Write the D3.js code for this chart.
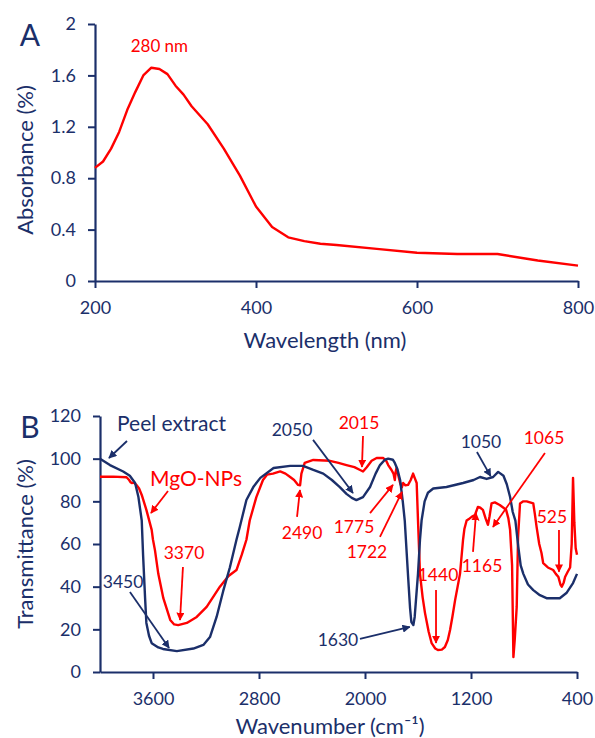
<!DOCTYPE html>
<html>
<head>
<meta charset="utf-8">
<script src="https://cdn.jsdelivr.net/npm/d3@7"></script>
<style>
  body { margin: 0; background: #fff; }
  svg text { font-family: Lato, "Open Sans", sans-serif; }
</style>
</head>
<body>
<svg id="chart" width="595" height="738"></svg>
<script>
const navy = '#1b2f6a';
const red = '#ff0000';

// Panel A: UV-vis absorbance
const wavelength = [200, 210, 220, 230, 240, 250, 260, 270, 280, 290, 300, 310, 320, 340, 360, 380, 400, 420, 440, 460, 480, 500, 550, 600, 650, 700, 750, 800];
const absorbance = [0.88, 0.93, 1.03, 1.16, 1.33, 1.47, 1.60, 1.66, 1.65, 1.61, 1.52, 1.45, 1.36, 1.22, 1.03, 0.82, 0.58, 0.42, 0.34, 0.31, 0.29, 0.28, 0.25, 0.22, 0.21, 0.21, 0.16, 0.12];
const absTicks = [0, 0.4, 0.8, 1.2, 1.6, 2];
const wlTicks = [200, 400, 600, 800];

// Panel B: FTIR, peel extract
const peelWn = [4000, 3925, 3825, 3775, 3735, 3710, 3685, 3675, 3660, 3650, 3630, 3610, 3560, 3525, 3420, 3295, 3220, 3170, 3120, 3070, 3020, 2970, 2945, 2895, 2840, 2790, 2690, 2565, 2468, 2390, 2315, 2250, 2190, 2140, 2100, 2065, 2015, 1962, 1920, 1887, 1850, 1825, 1790, 1775, 1755, 1735, 1715, 1700, 1675, 1660, 1650, 1635, 1625, 1610, 1600, 1585, 1573, 1550, 1525, 1485, 1385, 1260, 1180, 1132, 1082, 1033, 995, 955, 930, 905, 885, 865, 843, 825, 805, 770, 730, 680, 630, 530, 480, 430, 400];
const peelT = [100, 97, 94, 92, 88.6, 82, 71, 55, 35, 23, 17, 13.5, 11.5, 10.8, 9.8, 11, 12.7, 16.4, 25.8, 38, 49, 62, 68, 80.6, 87, 91, 95.6, 96.6, 96.6, 94.7, 93, 90, 86.7, 83.5, 81.6, 80.6, 82, 86.7, 93, 97, 99.5, 100, 99.5, 98, 95, 90, 80, 71, 45, 30, 23.4, 22, 25.8, 38, 46, 62, 71, 80, 84, 86, 86.7, 88.6, 90, 91.4, 90.5, 91.4, 93.8, 92, 88, 82, 75, 71, 58.6, 50, 46, 41, 38.4, 36, 34.6, 34.6, 37, 41.7, 46];

// Panel B: FTIR, MgO nanoparticles
const mgoWn = [4000, 3900, 3800, 3780, 3770, 3760, 3745, 3725, 3705, 3685, 3650, 3610, 3600, 3585, 3560, 3522, 3470, 3440, 3410, 3345, 3270, 3195, 3095, 3030, 2970, 2930, 2895, 2870, 2820, 2770, 2740, 2695, 2640, 2600, 2565, 2535, 2505, 2490, 2480, 2455, 2390, 2265, 2200, 2140, 2080, 2037, 2015, 1987, 1950, 1912, 1862, 1840, 1825, 1800, 1785, 1775, 1768, 1762, 1748, 1735, 1722, 1712, 1695, 1675, 1655, 1637, 1625, 1610, 1600, 1585, 1565, 1547, 1520, 1497, 1470, 1450, 1420, 1397, 1375, 1358, 1340, 1320, 1283, 1260, 1250, 1233, 1210, 1195, 1170, 1148, 1130, 1110, 1090, 1072, 1060, 1045, 1020, 983, 955, 935, 918, 905, 890, 880, 870, 855, 845, 830, 805, 780, 755, 730, 718, 705, 685, 668, 655, 620, 580, 560, 540, 525, 515, 500, 490, 470, 452, 440, 430, 420, 410, 400];
const mgoT = [91.5, 91.6, 91.3, 90, 89, 88.6, 88.8, 87.7, 86, 83, 76, 66.6, 62, 57, 46, 34.6, 24.4, 22.3, 22, 23, 25.8, 30.5, 40, 45, 47.8, 55, 62, 71, 82, 90, 92.5, 93, 94, 93, 91.4, 90, 87.7, 87.5, 93, 98, 99.4, 99, 98, 97, 96, 94.7, 94, 96, 99, 100.3, 100.3, 99, 97, 94.7, 93, 90, 94, 95.6, 92, 88.6, 86.5, 88.6, 87.5, 87.7, 90, 93, 91, 88.6, 71, 46, 35, 27.6, 19, 13.5, 11, 10.3, 10.5, 11.7, 15, 19.7, 26, 33.7, 46, 62, 67, 71, 72, 72.7, 73.6, 77.4, 77, 76, 72, 69, 73, 79, 79.5, 78.3, 77, 76, 72, 66.6, 50, 7, 15, 30.5, 63, 79, 80, 80, 79.5, 79, 74, 68, 60, 55.8, 51, 49, 47.8, 46, 44.5, 41, 40, 42, 44.5, 47, 49, 60, 91, 70, 58, 55];
const tTicks = [0, 20, 40, 60, 80, 100, 120];
const wnTicks = [3600, 2800, 2000, 1200, 400];

// peak labels: [text, label wn, label T, arrow from wn, T, arrow to wn, T]
const peelNotes = [
  ['3450', 3826, 39.4, 3774, 37.5, 3479, 11.3],
  ['2050', 2551, 110.6, 2392, 108.8, 2091, 83.9],
  ['1630', 2204, 12.2, 2038, 15.5, 1662, 21.1],
  ['1050', 1125, 105, 1155, 103.1, 1052, 91.8]
];
const mgoNotes = [
  ['3370', 3366, 53, 3374, 49.2, 3396, 24.4],
  ['2015', 2045, 113.9, 2015, 110.6, 2023, 96.1],
  ['2490', 2475, 62.3, 2513, 72.7, 2491, 85.3],
  ['1775', 2083, 65.2, 1962, 74.5, 1789, 87.7],
  ['1722', 1985, 53.4, 1887, 63.3, 1721, 84.4],
  ['1440', 1449, 42.7, 1464, 38.4, 1464, 13.6],
  ['1165', 1117, 46.9, 1185, 56.3, 1162, 74.5],
  ['1065', 649, 106.9, 642, 102.7, 1034, 68],
  ['525', 589, 69.8, 536, 66.6, 536, 47]
];

const svg = d3.select('#chart');
svg.append('defs').selectAll('marker')
  .data([['hn', navy], ['hr', red]])
  .join('marker')
  .attr('id', d => d[0])
  .attr('viewBox', '0 0 10 10')
  .attr('refX', 9).attr('refY', 5)
  .attr('markerWidth', 4.5).attr('markerHeight', 4.5)
  .attr('orient', 'auto')
  .append('path')
  .attr('d', 'M0,0L10,5L0,10z')
  .attr('fill', d => d[1]);

function styleAxis(g) {
  g.selectAll('path.domain').attr('stroke', navy).attr('stroke-width', 2.2);
  g.selectAll('.tick line').attr('stroke', navy).attr('stroke-width', 2);
  g.selectAll('.tick text').attr('fill', navy).attr('font-size', 18)
    .style('font-family', 'Lato, sans-serif');
}

// ---- Panel A ----
const xA = d3.scaleLinear().domain([200, 800]).range([95, 578]);
const yA = d3.scaleLinear().domain([0, 2]).range([281, 24]);

svg.append('g').attr('transform', 'translate(0,281)')
  .call(d3.axisBottom(xA).tickValues(wlTicks).tickSize(7).tickPadding(13).tickSizeOuter(0))
  .call(styleAxis);
svg.append('g').attr('transform', 'translate(95,0)')
  .call(d3.axisLeft(yA).tickValues(absTicks).tickFormat(d3.format('~g')).tickSize(7).tickPadding(12).tickSizeOuter(0))
  .call(styleAxis);

svg.append('path')
  .datum(d3.zip(wavelength, absorbance))
  .attr('fill', 'none').attr('stroke', red).attr('stroke-width', 2.4)
  .attr('stroke-linejoin', 'round')
  .attr('d', d3.line().x(d => xA(d[0])).y(d => yA(d[1])));

svg.append('text').attr('x', xA(280)).attr('y', 52).attr('text-anchor', 'middle')
  .attr('fill', red).attr('font-size', 17).text('280 nm');
svg.append('text').attr('x', 30).attr('y', 46).attr('text-anchor', 'middle')
  .attr('fill', navy).attr('font-size', 30).text('A');
svg.append('text').attr('x', 325).attr('y', 348).attr('text-anchor', 'middle')
  .attr('fill', navy).attr('font-size', 22).text('Wavelength (nm)');
svg.append('text').attr('transform', 'translate(33,160) rotate(-90)').attr('text-anchor', 'middle')
  .attr('fill', navy).attr('font-size', 22).text('Absorbance (%)');

// ---- Panel B ----
const xB = d3.scaleLinear().domain([4000, 400]).range([100, 577]);
const yB = d3.scaleLinear().domain([0, 120]).range([672, 416]);

svg.append('g').attr('transform', 'translate(0,672)')
  .call(d3.axisBottom(xB).tickValues(wnTicks).tickFormat(d3.format('d')).tickSize(7).tickPadding(13).tickSizeOuter(0))
  .call(styleAxis);
svg.append('g').attr('transform', 'translate(100,0)')
  .call(d3.axisLeft(yB).tickValues(tTicks).tickSize(7).tickPadding(12).tickSizeOuter(0))
  .call(styleAxis);

const lineB = d3.line().x(d => xB(d[0])).y(d => yB(d[1]));
svg.append('path').datum(d3.zip(mgoWn, mgoT))
  .attr('fill', 'none').attr('stroke', red).attr('stroke-width', 2.4)
  .attr('stroke-linejoin', 'round').attr('d', lineB);
svg.append('path').datum(d3.zip(peelWn, peelT))
  .attr('fill', 'none').attr('stroke', navy).attr('stroke-width', 2.4)
  .attr('stroke-linejoin', 'round').attr('d', lineB);

function notes(list, colour, marker) {
  const g = svg.append('g');
  g.selectAll('line').data(list).join('line')
    .attr('x1', d => xB(d[3])).attr('y1', d => yB(d[4]))
    .attr('x2', d => xB(d[5])).attr('y2', d => yB(d[6]))
    .attr('stroke', colour).attr('stroke-width', 1.8)
    .attr('marker-end', `url(#${marker})`);
  g.selectAll('text').data(list).join('text')
    .attr('x', d => xB(d[1])).attr('y', d => yB(d[2]))
    .attr('text-anchor', 'middle').attr('fill', colour).attr('font-size', 17.5)
    .text(d => d[0]);
}
notes(peelNotes, navy, 'hn');
notes(mgoNotes, red, 'hr');

// series labels
svg.append('text').attr('x', 117).attr('y', 431).attr('fill', navy).attr('font-size', 21).text('Peel extract');
svg.append('line').attr('x1', 127).attr('y1', 441).attr('x2', 109).attr('y2', 458)
  .attr('stroke', navy).attr('stroke-width', 1.8).attr('marker-end', 'url(#hn)');
svg.append('text').attr('x', 150).attr('y', 486).attr('fill', red).attr('font-size', 21).text('MgO-NPs');
svg.append('line').attr('x1', 168).attr('y1', 491).attr('x2', 151).attr('y2', 513)
  .attr('stroke', red).attr('stroke-width', 1.8).attr('marker-end', 'url(#hr)');

svg.append('text').attr('x', 30).attr('y', 438).attr('text-anchor', 'middle')
  .attr('fill', navy).attr('font-size', 30).text('B');
svg.append('text').attr('x', 330).attr('y', 734).attr('text-anchor', 'middle')
  .attr('fill', navy).attr('font-size', 22)
  .text('Wavenumber (cm\u207B\u00B9)');
svg.append('text').attr('transform', 'translate(33,544) rotate(-90)').attr('text-anchor', 'middle')
  .attr('fill', navy).attr('font-size', 22).text('Transmittance (%)');
</script>
</body>
</html>
